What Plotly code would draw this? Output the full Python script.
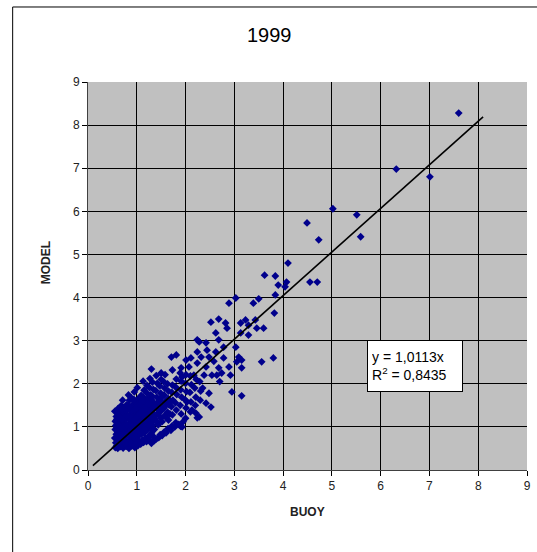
import plotly.graph_objects as go

# ---- data (BUOY vs MODEL wave height, 1999) ----
core_points = [
    (0.56,0.52),(0.57,0.63),(0.55,0.74),(0.58,0.83),(0.56,0.94),(0.57,1.03),(0.56,1.13),(0.58,1.24),(0.55,1.36),
    (0.61,0.50),(0.62,0.59),(0.60,0.69),(0.63,0.79),(0.61,0.88),(0.62,0.99),(0.60,1.09),(0.63,1.19),(0.61,1.31),(0.62,1.43),
    (0.67,0.54),(0.66,0.66),(0.68,0.75),(0.65,0.86),(0.67,0.96),(0.66,1.06),(0.68,1.16),(0.67,1.26),(0.65,1.36),(0.68,1.49),
    (0.72,0.51),(0.73,0.62),(0.71,0.73),(0.74,0.82),(0.72,0.93),(0.73,1.01),(0.71,1.13),(0.74,1.22),(0.72,1.33),(0.73,1.45),(0.71,1.62),
    (0.78,0.55),(0.79,0.66),(0.77,0.77),(0.80,0.86),(0.78,0.97),(0.79,1.06),(0.77,1.17),(0.80,1.27),(0.78,1.38),(0.79,1.51),
    (0.84,0.50),(0.85,0.68),(0.83,0.79),(0.86,0.88),(0.84,0.99),(0.85,1.08),(0.83,1.19),(0.86,1.29),(0.84,1.41),(0.85,1.62),(0.83,1.74),
    (0.90,0.56),(0.91,0.67),(0.89,0.76),(0.92,0.87),(0.90,0.96),(0.91,1.07),(0.89,1.17),(0.92,1.27),(0.90,1.37),(0.91,1.51),(0.89,1.67),
    (0.96,0.52),(0.97,0.72),(0.95,0.83),(0.98,0.92),(0.96,1.03),(0.97,1.12),(0.95,1.23),(0.98,1.33),(0.96,1.45),(0.97,1.58),(0.95,1.81),
    (1.02,0.56),(1.03,0.78),(1.01,0.89),(1.04,0.98),(1.02,1.09),(1.03,1.18),(1.01,1.29),(1.04,1.38),(1.02,1.51),(1.03,1.65),(1.01,1.91),
    (1.08,0.60),(1.09,0.83),(1.07,0.94),(1.10,1.05),(1.08,1.14),(1.09,1.25),(1.07,1.35),(1.10,1.46),(1.08,1.59),(1.09,1.73),
    (1.14,0.64),(1.15,0.86),(1.13,0.99),(1.16,1.10),(1.14,1.21),(1.15,1.31),(1.13,1.42),(1.16,1.55),(1.14,1.68),(1.15,1.85),(1.13,2.06),
    (1.20,0.66),(1.21,0.93),(1.19,1.04),(1.22,1.17),(1.20,1.28),(1.21,1.41),(1.19,1.52),(1.22,1.65),(1.20,1.79),(1.21,1.96),
    (1.26,0.70),(1.27,0.98),(1.25,1.11),(1.28,1.22),(1.26,1.35),(1.27,1.46),(1.25,1.61),(1.28,1.74),(1.26,1.91),(1.27,2.12),
    (1.32,0.80),(1.33,1.04),(1.31,1.18),(1.34,1.31),(1.32,1.44),(1.33,1.58),(1.31,1.72),(1.34,1.87),
    (1.40,0.72),(1.41,1.12),(1.39,1.26),(1.42,1.41),(1.40,1.54),(1.41,1.69),(1.39,1.84),(1.42,2.01),(1.40,2.19),
    (1.48,0.82),(1.49,1.20),(1.47,1.34),(1.50,1.49),(1.48,1.63),(1.49,1.78),(1.47,1.95),(1.50,2.10),
    (1.56,0.88),(1.57,1.26),(1.55,1.43),(1.58,1.58),(1.56,1.74),(1.57,1.90),(1.55,2.05),(1.58,2.21),
    (1.64,0.96),(1.65,1.16),(1.63,1.34),(1.66,1.51),(1.64,1.66),(1.65,1.83),(1.63,2.00),
    (1.72,1.02),(1.73,1.28),(1.71,1.47),(1.74,1.62),(1.72,1.80),(1.73,1.97),
    (1.80,1.10),(1.81,1.39),(1.79,1.56),(1.82,1.75),(1.80,1.92),(1.81,2.11),
    (1.90,1.01),(1.91,1.30),(1.89,1.50),(1.92,1.69),(1.90,1.86),(1.91,2.06),(1.89,2.25),
    (2.00,1.20),(2.01,1.44),(1.99,1.63),(2.02,1.82),(2.00,2.01),(2.01,2.21),
    (2.10,1.35),(2.11,1.58),(2.09,1.80),(2.12,1.98),(2.10,2.18),
    (2.20,1.50),(2.21,1.69),(2.19,1.90),(2.22,2.10),
    (2.30,1.62),(2.31,1.83),(2.29,2.05),
    (1.30,0.62),(1.36,0.68),(1.45,0.75),(1.52,0.80),(1.60,0.86),(1.70,0.92),(1.78,1.00),(1.86,1.06),(1.95,1.12),
]

fill_points = [
    (0.59,0.57),(0.59,0.78),(0.59,0.98),(0.59,1.18),(0.64,0.63),(0.64,0.83),(0.64,1.03),(0.64,1.23),
    (0.70,0.58),(0.70,0.78),(0.70,0.98),(0.70,1.18),(0.70,1.40),(0.76,0.61),(0.76,0.81),(0.76,1.01),
    (0.76,1.22),(0.76,1.44),(0.82,0.63),(0.82,0.83),(0.82,1.03),(0.82,1.24),(0.82,1.50),(0.88,0.61),
    (0.88,0.81),(0.88,1.02),(0.88,1.22),(0.88,1.45),(0.94,0.57),(0.94,0.77),(0.94,0.98),(0.94,1.18),
    (0.94,1.40),(0.94,1.64),(1.00,0.62),(1.00,0.83),(1.00,1.04),(1.00,1.24),(1.00,1.45),(1.06,0.66),
    (1.06,0.88),(1.06,1.10),(1.06,1.30),(1.06,1.52),(1.12,0.70),(1.12,0.92),(1.12,1.15),(1.12,1.37),
    (1.12,1.60),(1.18,0.74),(1.18,0.98),(1.18,1.22),(1.18,1.46),(1.24,0.78),(1.24,1.04),(1.24,1.28),
    (1.24,1.52),(1.30,0.86),(1.30,1.11),(1.30,1.37),(1.30,1.64),(1.36,0.94),(1.36,1.19),(1.36,1.47),
    (1.44,1.05),(1.44,1.30),(1.44,1.58),(1.52,1.12),(1.52,1.40),(1.52,1.70),(1.60,1.22),(1.60,1.50),
    (1.68,1.30),(1.68,1.58),
]

mid_points = [
    (2.21,1.32),(2.24,1.21),(1.93,1.00),(2.03,1.58),(2.13,1.39),(2.42,1.55),(2.28,1.23),(2.52,1.46),
    (2.95,1.81),(3.15,1.72),(1.32,2.04),(1.30,2.34),(1.50,2.25),(1.73,2.32),(1.91,2.37),(2.07,2.39),
    (2.24,2.48),(2.42,2.39),(1.93,2.16),(2.17,2.20),(2.38,2.20),(1.71,2.62),(1.81,2.67),(2.01,2.55),
    (2.11,2.60),(2.32,2.62),(2.54,2.20),(2.64,2.20),(2.74,2.25),(2.92,2.20),(2.68,2.37),(2.89,2.39),
    (3.15,2.37),(2.78,2.60),(3.09,2.62),(3.05,2.51),(3.15,2.55),(3.56,2.51),(3.80,2.60),(2.24,2.74),
    (2.44,2.78),(2.62,2.74),(3.03,2.85),(2.78,2.85),(2.28,2.97),(2.42,2.95),(2.68,3.02),(2.24,3.02),
    (2.62,3.18),(2.85,3.29),(2.82,3.41),(2.52,3.43),(2.68,3.50),(3.13,3.41),(3.23,3.48),(3.29,3.36),
    (3.43,3.48),(3.46,3.29),(3.60,3.29),(3.29,3.13),(3.13,3.18),(3.82,3.64),(2.89,3.87),(3.03,3.99),
    (3.39,3.87),(3.50,3.97),(3.84,4.06),(4.04,4.25),(3.90,4.29),(4.07,4.36),(3.62,4.52),(3.84,4.50),
    (4.10,4.80),(2.58,2.52),(2.48,2.62),(2.70,2.05),(2.35,1.90),(2.48,1.78),
]

high_points = [
    (4.55,4.36),(4.70,4.36),(4.49,5.73),(4.73,5.34),(5.02,6.06),(5.51,5.92),
    (5.59,5.41),(6.32,6.98),(7.01,6.80),(7.60,8.28),
]

all_points = core_points + fill_points + mid_points + high_points
buoy = [p[0] for p in all_points]
model = [p[1] for p in all_points]

trend_slope = 1.0113
trend_x = [0.1, 8.1]

axis_ticks = [0, 1, 2, 3, 4, 5, 6, 7, 8, 9]
grid_ticks = [1, 2, 3, 4, 5, 6, 7, 8]

FONT = "Arial, Liberation Sans, Helvetica, sans-serif"

fig = go.Figure()
fig.add_trace(go.Scatter(
    x=buoy, y=model, mode="markers",
    marker=dict(symbol="diamond", size=6, color="#00008c", line=dict(width=0)),
    showlegend=False, hoverinfo="skip",
))
fig.add_trace(go.Scatter(
    x=trend_x, y=[trend_slope * v for v in trend_x], mode="lines",
    line=dict(color="black", width=1.6), showlegend=False, hoverinfo="skip",
))

axis_common = dict(
    range=[0, 9], tickmode="array", tickvals=axis_ticks,
    ticks="outside", ticklen=5, tickcolor="black", tickwidth=1,
    showline=True, linecolor="#404040", linewidth=1,
    showgrid=False, zeroline=False,
    tickfont=dict(family=FONT, size=12, color="#222222"),
    minor=dict(tickmode="array", tickvals=grid_ticks, showgrid=True,
               gridcolor="black", gridwidth=1, ticks=""),
    fixedrange=True,
)

fig.update_layout(
    width=537, height=552,
    margin=dict(l=88, r=6, t=82, b=82),
    paper_bgcolor="white", plot_bgcolor="#c0c0c0",
    xaxis=axis_common, yaxis=axis_common,
    font=dict(family=FONT, color="black"),
    shapes=[dict(type="rect", xref="paper", yref="paper",
                 x0=-0.1716, x1=1.05, y0=-0.22, y1=1.1933,
                 line=dict(color="black", width=1), fillcolor="rgba(0,0,0,0)",
                 layer="below")],
    annotations=[
        dict(text="1999", xref="paper", yref="paper", x=0.413, y=1.121,
             xanchor="center", yanchor="middle", showarrow=False,
             font=dict(family=FONT, size=20, color="black")),
        dict(text="<b>BUOY</b>", xref="paper", yref="paper", x=0.5, y=-0.108,
             xanchor="center", yanchor="middle", showarrow=False,
             font=dict(family=FONT, size=12, color="#222222")),
        dict(text="<b>MODEL</b>", xref="paper", yref="paper", x=-0.097, y=0.534,
             xanchor="center", yanchor="middle", showarrow=False, textangle=-90,
             font=dict(family=FONT, size=12, color="#222222")),
        dict(text="y = 1,0113x<br>R<sup>2</sup> = 0,8435", xref="paper", yref="paper",
             x=0.745, y=0.268, xanchor="center", yanchor="middle", showarrow=False,
             align="left", bgcolor="white", bordercolor="black", borderwidth=1,
             borderpad=4, width=86, height=42,
             font=dict(family=FONT, size=14, color="black")),
    ],
)

fig.write_html("out.html")
